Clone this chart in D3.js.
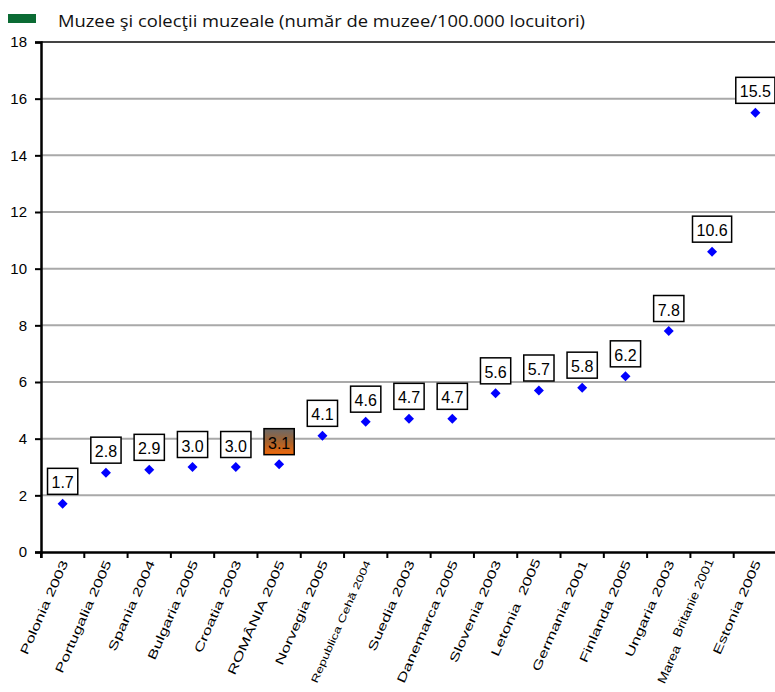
<!DOCTYPE html>
<html><head><meta charset="utf-8">
<script src="https://cdn.jsdelivr.net/npm/d3@7"></script>
<style>body{margin:0;background:#fff}svg{display:block}</style>
</head><body>
<svg id="c" width="775" height="692"></svg>
<script>
const categories = ["Polonia 2003","Portugalia 2005","Spania 2004","Bulgaria 2005","Croatia 2003","ROMÂNIA 2005","Norvegia 2005","Republica Cehă 2004","Suedia 2003","Danemarca 2005","Slovenia 2003","Letonia  2005","Germania 2001","Finlanda 2005","Ungaria 2003","Marea  Britanie 2001","Estonia 2005"];
const values = [1.7,2.8,2.9,3.0,3.0,3.1,4.1,4.6,4.7,4.7,5.6,5.7,5.8,6.2,7.8,10.6,15.5];
const yTicks = [0,2,4,6,8,10,12,14,16,18];
const highlight = "ROMÂNIA 2005";
const legendLabel = "Muzee şi colecţii muzeale (număr de muzee/100.000 locuitori)";

const svg = d3.select("#c");
const x = d3.scaleBand().domain(categories).range([41, 777]);
const y = d3.scaleLinear().domain([0, 18]).range([552, 42]);

const defs = svg.append("defs");
const g = defs.append("linearGradient").attr("id","rg").attr("x1",0).attr("y1",0).attr("x2",0).attr("y2",1);
g.append("stop").attr("offset","0%").attr("stop-color","#6a6a6a");
g.append("stop").attr("offset","50%").attr("stop-color","#a4622e");
g.append("stop").attr("offset","100%").attr("stop-color","#f2690a");

// legend
svg.append("rect").attr("x",8).attr("y",14).attr("width",28).attr("height",9).attr("fill","#0b6b34");
svg.append("text").attr("x",58).attr("y",27).attr("font-family","Open Sans").attr("font-size",16)
  .attr("textLength",527).attr("lengthAdjust","spacingAndGlyphs").attr("fill","#111").text(legendLabel);

// gridlines
svg.append("g").selectAll("line").data(yTicks.filter(d=>d>0)).join("line")
  .attr("x1",41).attr("x2",775).attr("y1",d=>y(d)).attr("y2",d=>y(d))
  .attr("stroke",d=>d===18?"#444":"#a9a9a9").attr("stroke-width",2);

// y axis
const ya = svg.append("g").attr("transform","translate(41,0)")
  .call(d3.axisLeft(y).tickValues(yTicks).tickSize(6).tickPadding(8));
ya.select(".domain").attr("stroke","#000").attr("stroke-width",2.5);
ya.selectAll(".tick line").attr("stroke","#000").attr("stroke-width",2);
ya.selectAll(".tick text").attr("font-family","Liberation Sans, Arial").attr("font-size",15).attr("fill","#000");

// x axis
const xa = svg.append("g").attr("transform","translate(0,552)")
  .call(d3.axisBottom(x).tickSize(6).tickFormat(""));
xa.select(".domain").attr("stroke","#000").attr("stroke-width",2.5);
xa.selectAll(".tick").attr("transform", d=>`translate(${x(d)},0)`);
xa.selectAll(".tick line").attr("stroke","#000").attr("stroke-width",2);

// x labels
const ang = 66, maxLen = 133;
const xl = svg.append("g").selectAll("text").data(categories).join("text")
  .attr("text-anchor","end").attr("dy","0.35em").style("white-space","pre")
  .attr("font-family","Liberation Sans, Arial").attr("font-size", d=>d.startsWith("Republica")?10:12)
  .attr("fill","#000");
xl.each(function(d){
  const parts = d.split(/\s{2,}/);
  const t = d3.select(this);
  if (parts.length === 1) t.text(d);
  else {
    const shift = parts[0] === "Marea" ? 5 : 0;
    t.append("tspan").attr("dy", shift).text(parts[0]);
    t.append("tspan").attr("dy", -shift).text("  " + parts[1]);
  }
  const len = this.getComputedTextLength();
  const s = Math.min(1.45, maxLen / len);
  t.attr("transform", `translate(${x(d)+x.bandwidth()/2+2},561) rotate(-${ang}) scale(${s},1)`);
});

// points
const sym = d3.symbol().type(d3.symbolSquare).size(50);
svg.append("g").selectAll("path").data(values).join("path")
  .attr("transform",(d,i)=>`translate(${x(categories[i])+x.bandwidth()/2},${y(d)}) rotate(45)`)
  .attr("d",sym).attr("fill","#0000ff");

// value labels
const lab = svg.append("g").selectAll("g").data(values).join("g")
  .attr("transform",(d,i)=>`translate(${x(categories[i])+x.bandwidth()/2},${y(d)-9.5})`);
lab.each(function(d,i){
  const gg = d3.select(this);
  const t = gg.append("text").attr("text-anchor","middle").attr("y",-6)
    .attr("font-family","Liberation Sans, Arial").attr("font-size",16).attr("fill","#000").text(d.toFixed(1));
  const w = t.node().getComputedTextLength()+8;
  gg.insert("rect","text").attr("x",-w/2).attr("y",-26).attr("width",w).attr("height",26)
    .attr("fill",categories[i]===highlight?"url(#rg)":"#fff").attr("stroke","#000").attr("stroke-width",1.5);
});
</script>
</body></html>
